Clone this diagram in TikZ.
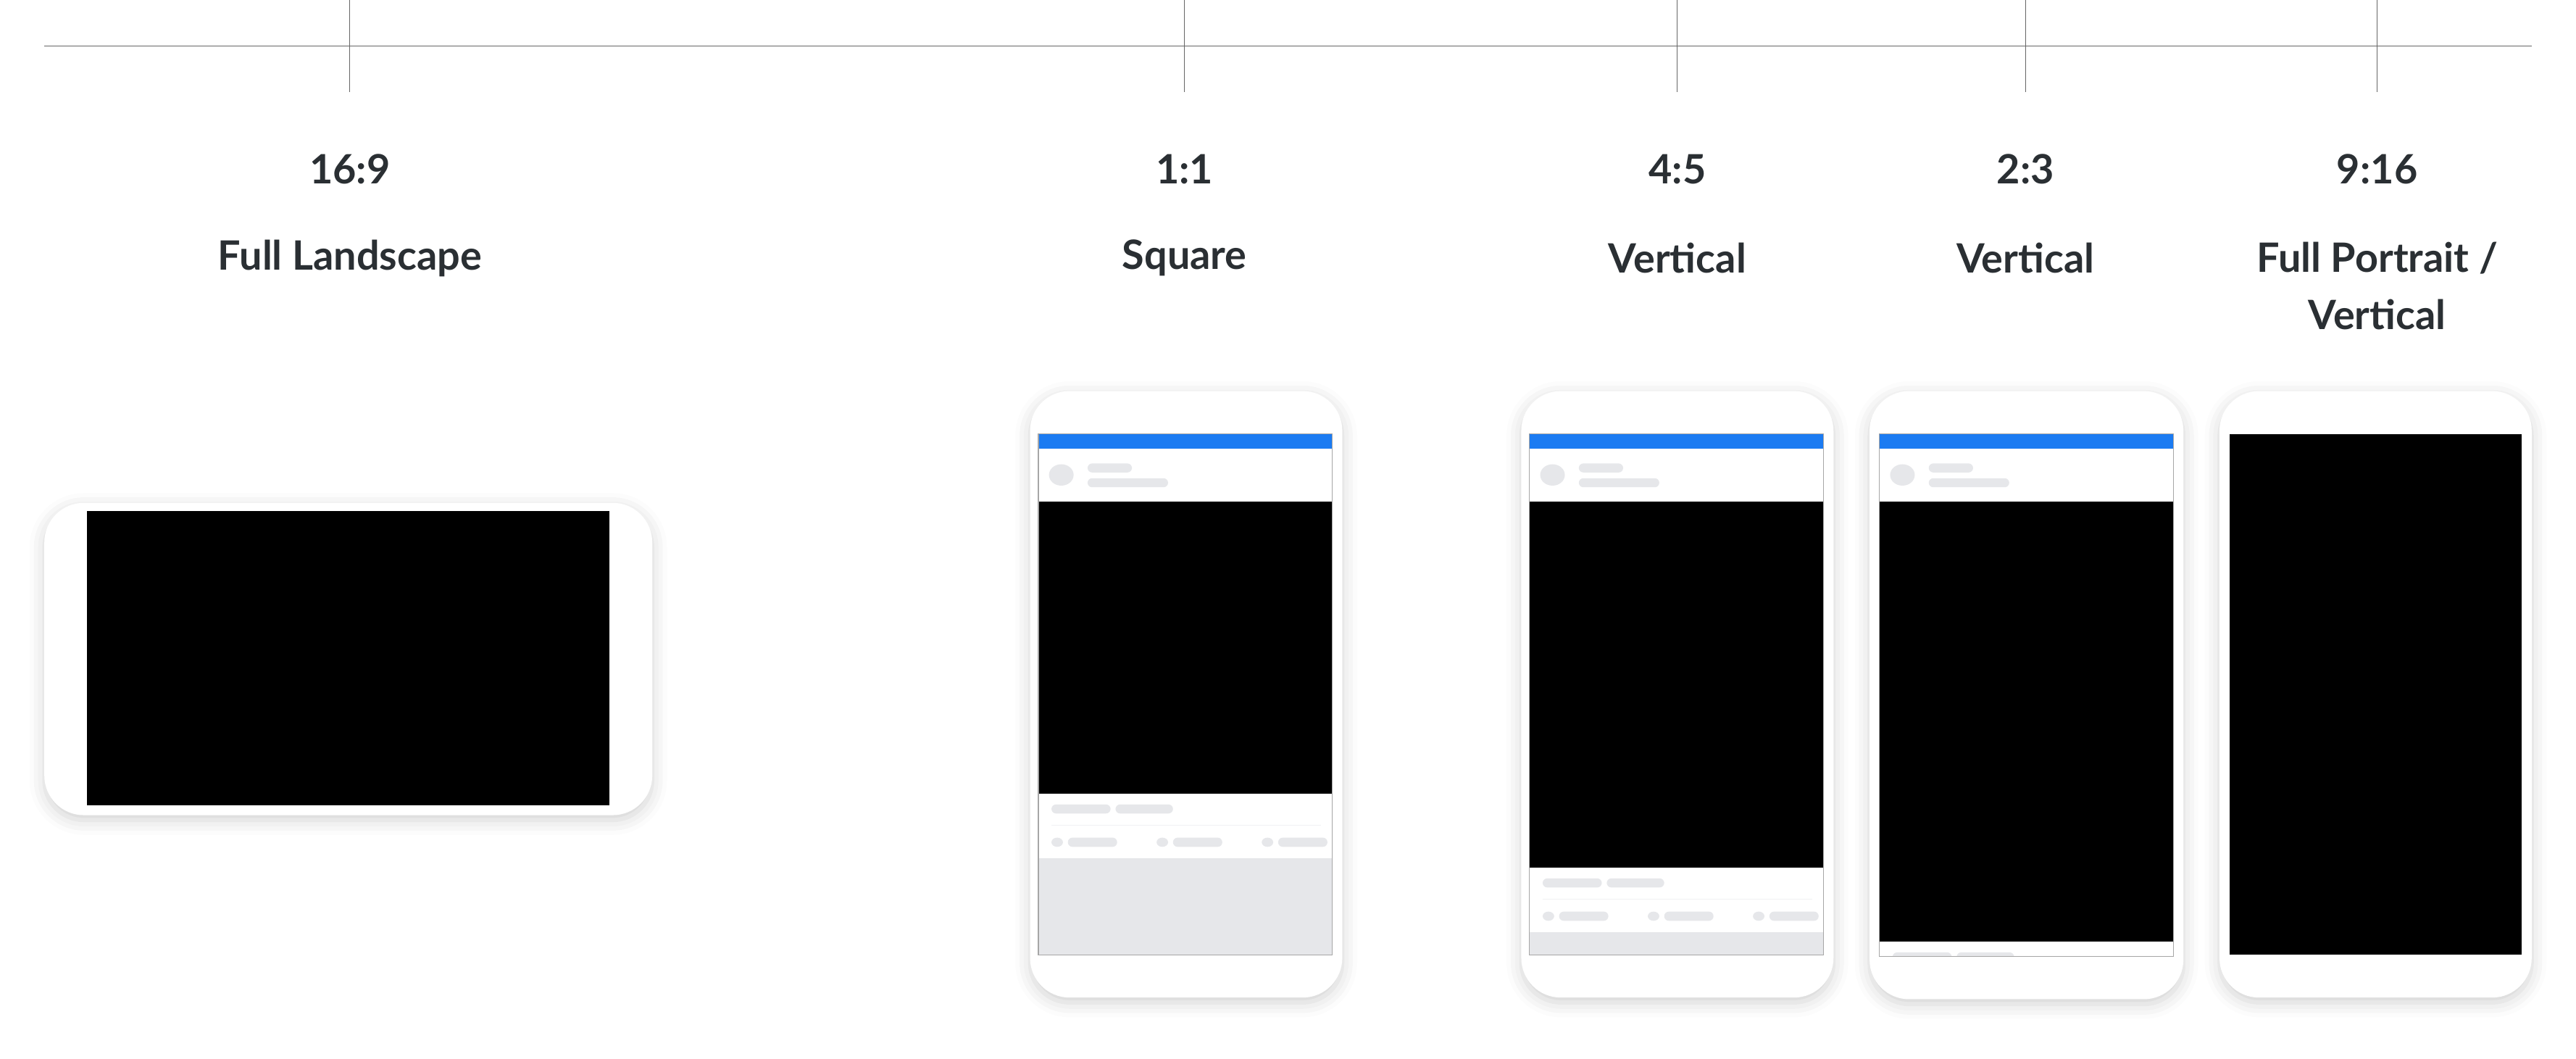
\documentclass[tikz,border=0pt]{standalone}
\usepackage{fontspec}
\setmainfont{Lato}
\usetikzlibrary{shadows.blur}
\definecolor{fbblue}{HTML}{1B7BF2}
\definecolor{pillgray}{HTML}{E6E7EA}
\definecolor{txtgray}{HTML}{2A2F33}
\tikzset{
  phone/.style={fill=white, rounded corners=24mm, blur shadow={shadow xshift=0mm, shadow yshift=-3mm, shadow blur radius=9mm, shadow opacity=18}},
  pill/.style={fill=pillgray, rounded corners=2.8mm},
  ratiotxt/.style={font=\fontsize{70}{84}\selectfont\bfseries, text=txtgray},
  labeltxt/.style={font=\fontsize{70}{100}\selectfont\bfseries, text=txtgray, align=center}
}
% #1 screen left, #2 black top, #3 black bottom, #4 screen bottom
\newcommand{\fbpost}[4]{
  \begin{scope}
  \clip (#1,264) rectangle (#1+179,#4);
  \fill[white] (#1,264) rectangle (#1+179,#4);
  \fill[fbblue] (#1,264) rectangle (#1+179,273);
  \fill[pillgray] (#1+14,289) ellipse (7.5 and 6.5);
  \fill[pill] (#1+30,282) rectangle (#1+57,287.5);
  \fill[pill] (#1+30,291) rectangle (#1+79,296.5);
  \fill[black] (#1,#2) rectangle (#1+179,#3);
  \fill[pill] (#1+8,#3+6.5) rectangle (#1+44,#3+12);
  \fill[pill] (#1+47,#3+6.5) rectangle (#1+82,#3+12);
  \draw[pillgray!60, line width=0.5mm] (#1+8,#3+19) -- (#1+172,#3+19);
  \foreach \dx in {8,72,136}{
    \fill[pillgray] (#1+\dx+3.5,#3+29.5) ellipse (3.5 and 2.8);
    \fill[pill] (#1+\dx+10,#3+26.7) rectangle (#1+\dx+40,#3+32.3);
  }
  \fill[pillgray] (#1,#3+39) rectangle (#1+179,#4);
  \end{scope}
  \draw[gray!70, line width=0.6mm] (#1,264) rectangle (#1+179,#4);
}
\begin{document}
\begin{tikzpicture}[x=1mm, y=-1mm]
\useasboundingbox (0,0) rectangle (1568,644);
% timeline
\draw[gray!80!black, line width=0.5mm] (27,28) -- (1541,28);
\foreach \tx in {213,721,1021,1233,1447}
  \draw[gray!80!black, line width=0.5mm] (\tx,0) -- (\tx,56);
% labels
\node[ratiotxt] (r169) at (213,103) {16:9};
\node[labeltxt] (n169) at (213,157) {Full Landscape};
\node[ratiotxt] (r11) at (721,103) {1:1};
\node[labeltxt] (n11) at (721,157) {Square};
\node[ratiotxt] (r45) at (1021,103) {4:5};
\node[labeltxt] (n45) at (1021,157) {Vertical};
\node[ratiotxt] (r23) at (1233,103) {2:3};
\node[labeltxt] (n23) at (1233,157) {Vertical};
\node[ratiotxt] (r916) at (1447,103) {9:16};
\node[labeltxt] (n916) at (1447,174) {Full Portrait /\\Vertical};
% phones
\fill[phone] (27,306) rectangle (397,496);
\fill[black] (53,311) rectangle (371,490);
\fill[phone] (627,238) rectangle (817,607);
\fbpost{632}{305}{483}{581}
\fill[phone] (926,238) rectangle (1116,607);
\fbpost{931}{305}{528}{581}
\fill[phone] (1138,238) rectangle (1329,608);
\fbpost{1144}{305}{573}{582}
\fill[phone] (1351,238) rectangle (1541,607);
\fill[black] (1357,264) rectangle (1535,581);
\end{tikzpicture}
\end{document}
